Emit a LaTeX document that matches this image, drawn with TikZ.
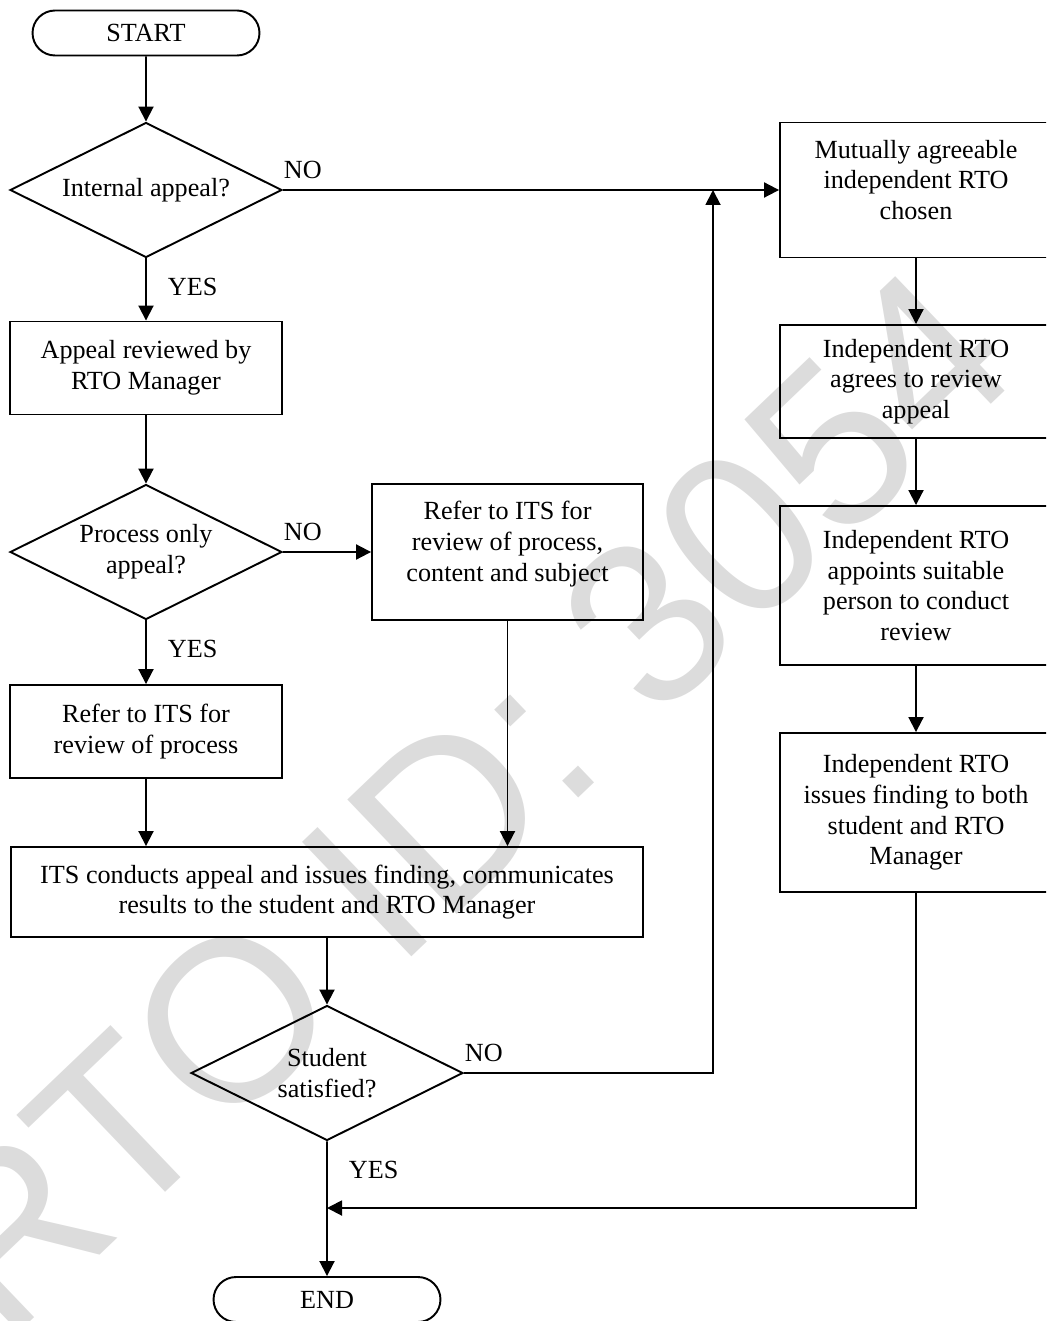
\documentclass[tikz,border=0pt]{standalone}
\usepackage{fontspec}
\setmainfont{Liberation Serif}
\newfontfamily\wmfont{Liberation Sans}
\usetikzlibrary{shapes.geometric,shapes.misc,arrows.meta}
\definecolor{wmgray}{RGB}{220,220,220}

\begin{document}
\begin{tikzpicture}[x=0.02cm,y=-0.02cm,line width=1.1pt,
    >={Triangle[length=0.3cm,width=0.3cm]},
    font=\fontsize{14.9}{17.5}\selectfont,
    box/.style={draw,rectangle,align=center,inner sep=0pt,minimum width=5.44cm},
    ask/.style={draw,diamond,aspect=2,align=center,inner sep=0pt,minimum width=5.44cm,minimum height=2.7cm},
    term/.style={draw,rounded rectangle,inner sep=0pt,minimum width=4.54cm,minimum height=0.9cm},
    yeslbl/.style={anchor=north west,inner sep=0pt,xshift=0.42cm,yshift=-0.38cm},
    nolbl/.style={anchor=south west,inner sep=0pt,yshift=0.2cm}]
    \clip[use as bounding box] (0,0) rectangle (1046,1321);
    \node[wmgray,rotate=43.7,font=\wmfont\fontsize{131}{131}\selectfont] (wm) at (461,801) {RTO ID: 3054};
    % left column
    \node[term] (start) at (146,33) {START};
    \node[ask] (q1) at (146,190) {Internal appeal?};
    \node[box,minimum height=1.86cm] (review) at (146,368) {Appeal reviewed by\\RTO Manager};
    \node[ask] (q2) at (146,552) {Process only\\appeal?};
    \node[box,minimum width=5.42cm,minimum height=2.72cm] (itsfull) at (507.5,552) {Refer to ITS for\\review of process,\\content and subject\\[-5.3pt]};
    \node[box,minimum height=1.86cm] (itsproc) at (146,731.5) {Refer to ITS for\\review of process};
    \node[box,minimum width=12.66cm,minimum height=1.8cm] (conduct) at (327,892) {ITS conducts appeal and issues finding, communicates\\results to the student and RTO Manager};
    \node[ask] (q3) at (327,1073) {Student\\satisfied?};
    \node[term] (end) at (327,1299.5) {END};
    % right column
    \node[box,minimum height=2.7cm] (chosen) at (916,190) {Mutually agreeable\\independent RTO\\chosen\\[-6pt]};
    \node[box,minimum height=2.26cm] (agrees) at (916,381.5) {Independent RTO\\agrees to review\\appeal};
    \node[box,minimum height=3.18cm] (appoints) at (916,585.5) {Independent RTO\\appoints suitable\\person to conduct\\review};
    \node[box,minimum height=3.18cm] (finding) at (916,812.5) {Independent RTO\\issues finding to both\\student and RTO\\Manager};
    \coordinate (upjoin) at (713,190);
    \coordinate (endjoin) at (327,1208);
    % connectors
    \draw[->] (start) -- (q1);
    \draw[->] (q1.east) -- node[pos=0,nolbl] (no1) {NO} (chosen.west);
    \draw[->] (q1) -- node[pos=0,yeslbl] (yes1) {YES} (review);
    \draw[->] (review) -- (q2);
    \draw[->] (q2.east) -- node[pos=0,nolbl] (no2) {NO} (itsfull.west);
    \draw[->] (q2) -- node[pos=0,yeslbl] (yes2) {YES} (itsproc);
    \draw[->] (itsproc.south) -- (itsproc.south |- conduct.north);
    \draw[->] (itsfull.south) -- (itsfull.south |- conduct.north);
    \draw[->] (conduct) -- (q3);
    \draw[->] (q3.east) -| node[pos=0,nolbl] (no3) {NO} (upjoin);
    \draw[->] (q3) -- node[pos=0,yeslbl] (yes3) {YES} (end);
    \draw[->] (chosen) -- (agrees);
    \draw[->] (agrees) -- (appoints);
    \draw[->] (appoints) -- (finding);
    \draw[->] (finding.south) |- (endjoin);
\end{tikzpicture}
\end{document}
